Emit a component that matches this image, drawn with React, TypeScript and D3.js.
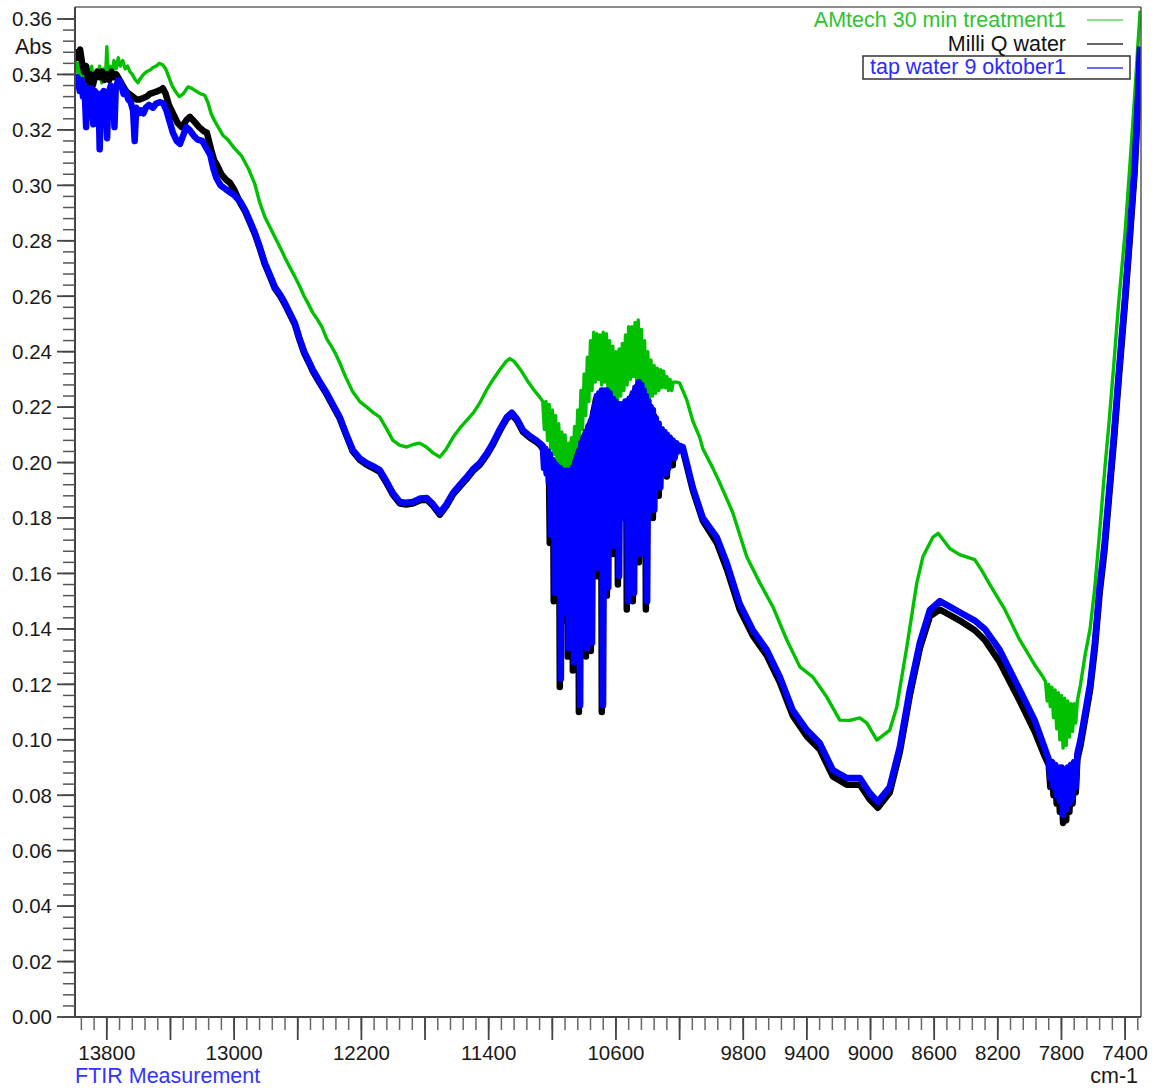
import React from 'react';
import * as d3 from 'd3';

// ---------- data (wavenumber cm-1, absorbance) ----------
const seriesNames = ['AMtech 30 min treatment1', 'Milli Q water', 'tap water 9 oktober1'];

const xTickLabels = [13800, 13000, 12200, 11400, 10600, 9800, 9400, 9000, 8600, 8200, 7800, 7400];

const amtech: [number, number][] = [
  [14000,0.346],[13992,0.341],[13982,0.344],[13972,0.338],[13962,0.342],[13950,0.337],[13940,0.341],[13930,0.336],
  [13918,0.342],[13905,0.338],[13895,0.343],[13882,0.336],[13870,0.341],[13858,0.339],[13845,0.343],[13832,0.337],
  [13820,0.342],[13808,0.339],[13800,0.350],[13792,0.339],[13780,0.343],[13768,0.340],[13755,0.345],[13742,0.342],
  [13728,0.346],[13715,0.343],[13700,0.345],[13685,0.342],[13670,0.343],[13655,0.341],[13640,0.340],[13620,0.338],
  [13605,0.337],[13590,0.3385],[13570,0.340],[13550,0.341],[13530,0.3415],[13510,0.3425],[13490,0.343],[13470,0.344],
  [13450,0.3435],[13430,0.342],[13410,0.339],[13390,0.336],[13370,0.334],[13345,0.332],[13320,0.333],[13290,0.3355],
  [13265,0.335],[13240,0.334],[13210,0.333],[13185,0.3325],[13165,0.330],[13145,0.326],[13125,0.3235],[13100,0.321],
  [13070,0.318],[13040,0.3165],[13000,0.3135],[12952,0.3105],[12910,0.306],[12870,0.3005],[12840,0.294],[12807,0.2886],
  [12775,0.285],[12744,0.2814],[12710,0.2775],[12681,0.274],[12650,0.2705],[12618,0.267],[12587,0.2635],[12560,0.260],
  [12537,0.2576],[12505,0.254],[12475,0.2515],[12449,0.249],[12417,0.2445],[12386,0.2417],[12360,0.239],[12336,0.236],
  [12300,0.231],[12254,0.2255],[12210,0.222],[12166,0.220],[12125,0.218],[12084,0.2164],[12040,0.212],[12002,0.208],
  [11960,0.2063],[11915,0.2056],[11875,0.2065],[11833,0.207],[11790,0.2055],[11750,0.2035],[11707,0.202],[11665,0.205],
  [11625,0.209],[11580,0.2125],[11537,0.2153],[11495,0.218],[11456,0.2215],[11415,0.226],[11374,0.2298],[11330,0.2335],
  [11290,0.2365],[11267,0.2375],[11240,0.2365],[11200,0.2335],[11160,0.2298],[11120,0.2265],[11079,0.2236],[11060,0.222],
  [11050,0.212],[11040,0.222],[11030,0.208],[11020,0.221],[11010,0.205],[11000,0.219],[10990,0.203],[10980,0.217],
  [10970,0.199],[10960,0.214],[10950,0.198],[10940,0.211],[10930,0.197],[10920,0.210],[10910,0.196],[10900,0.207],
  [10890,0.198],[10880,0.209],[10870,0.200],[10860,0.213],[10850,0.203],[10840,0.219],[10830,0.208],[10820,0.226],
  [10810,0.212],[10800,0.232],[10790,0.217],[10780,0.238],[10770,0.222],[10760,0.244],[10750,0.226],[10740,0.247],
  [10730,0.229],[10720,0.2465],[10710,0.230],[10700,0.246],[10690,0.228],[10680,0.247],[10670,0.229],[10660,0.2465],
  [10650,0.226],[10640,0.244],[10630,0.223],[10620,0.242],[10610,0.222],[10600,0.240],[10590,0.222],[10580,0.241],
  [10570,0.224],[10560,0.243],[10550,0.226],[10540,0.246],[10530,0.228],[10520,0.249],[10510,0.230],[10500,0.249],
  [10490,0.231],[10480,0.2505],[10470,0.229],[10460,0.2514],[10450,0.225],[10440,0.248],[10430,0.221],[10420,0.244],
  [10410,0.219],[10400,0.240],[10390,0.221],[10380,0.237],[10370,0.224],[10360,0.235],[10350,0.225],[10340,0.234],
  [10330,0.226],[10320,0.2335],[10310,0.227],[10300,0.233],[10290,0.227],[10280,0.231],[10270,0.226],[10260,0.230],
  [10250,0.226],[10240,0.229],[10220,0.229],[10200,0.2287],[10155,0.2226],[10117,0.215],[10073,0.209],[10054,0.205],
  [9991,0.198],[9947,0.1926],[9866,0.182],[9778,0.166],[9696,0.1566],[9614,0.148],[9526,0.136],[9444,0.1263],
  [9363,0.1227],[9275,0.1154],[9193,0.1071],[9130,0.107],[9067,0.1079],[9023,0.106],[8960,0.0999],[8879,0.1035],
  [8835,0.1118],[8772,0.1335],[8709,0.1566],[8671,0.166],[8609,0.173],[8575,0.1745],[8502,0.169],[8440,0.1668],
  [8345,0.165],[8300,0.161],[8250,0.156],[8156,0.147],[8062,0.136],[7968,0.127],[7920,0.123],[7900,0.121],
  [7890,0.114],[7880,0.120],[7870,0.112],[7860,0.119],[7850,0.108],[7840,0.118],[7830,0.104],[7820,0.117],
  [7810,0.100],[7800,0.116],[7790,0.097],[7780,0.115],[7770,0.098],[7760,0.114],[7750,0.101],[7740,0.113],
  [7730,0.103],[7720,0.113],[7710,0.106],[7700,0.114],[7680,0.120],[7650,0.131],[7620,0.140],[7590,0.155],
  [7560,0.175],[7530,0.196],[7500,0.215],[7470,0.236],[7440,0.258],[7400,0.283],[7370,0.307],[7340,0.332],
  [7320,0.350],[7305,0.363],
];

const milliQ: [number, number][] = [
  [14000,0.345],[13990,0.348],[13978,0.346],[13968,0.349],[13955,0.344],[13942,0.341],[13930,0.343],[13915,0.337],
  [13900,0.340],[13888,0.336],[13875,0.339],[13860,0.341],[13845,0.339],[13830,0.341],[13815,0.338],[13800,0.340],
  [13785,0.338],[13770,0.341],[13755,0.339],[13740,0.340],[13720,0.338],[13700,0.336],[13680,0.334],[13660,0.333],
  [13637,0.332],[13615,0.331],[13593,0.331],[13570,0.3315],[13549,0.332],[13530,0.333],[13505,0.3335],[13480,0.334],
  [13460,0.3345],[13448,0.335],[13430,0.333],[13410,0.329],[13385,0.326],[13355,0.3225],[13329,0.321],[13300,0.3235],
  [13278,0.3247],[13250,0.323],[13220,0.321],[13190,0.3195],[13171,0.319],[13145,0.313],[13125,0.309],[13109,0.3075],
  [13080,0.304],[13050,0.302],[13027,0.301],[13000,0.2985],[12960,0.2935],[12930,0.2905],[12900,0.2865],[12870,0.2825],
  [12840,0.2775],[12807,0.2715],[12770,0.2665],[12744,0.2628],[12710,0.260],[12681,0.2571],[12650,0.2535],[12618,0.2498],
  [12590,0.2445],[12560,0.2395],[12530,0.236],[12505,0.2329],[12460,0.2285],[12417,0.2245],[12380,0.2205],[12336,0.2159],
  [12300,0.2105],[12254,0.204],[12210,0.201],[12166,0.1992],[12120,0.1978],[12084,0.1966],[12040,0.1924],[12002,0.1884],
  [11958,0.1852],[11920,0.1849],[11877,0.1852],[11830,0.1864],[11789,0.1866],[11750,0.1844],[11707,0.1812],[11665,0.1844],
  [11625,0.1884],[11580,0.1914],[11537,0.1942],[11500,0.1969],[11456,0.1992],[11410,0.2029],[11374,0.2064],[11330,0.2114],
  [11286,0.2158],[11255,0.2174],[11220,0.2149],[11185,0.2111],[11140,0.2089],[11100,0.2074],[11079,0.2064],[11060,0.205],
  [11022,0.202],[11016,0.171],[11010,0.201],[10996,0.199],[10991,0.150],[10985,0.199],[10958,0.197],[10953,0.119],
  [10947,0.197],[10933,0.196],[10928,0.143],[10922,0.196],[10908,0.196],[10903,0.130],[10897,0.196],[10876,0.197],
  [10871,0.125],[10865,0.198],[10838,0.203],[10833,0.110],[10827,0.204],[10794,0.210],[10789,0.130],[10783,0.211],
  [10763,0.214],[10758,0.132],[10752,0.215],[10725,0.223],[10720,0.159],[10714,0.224],[10694,0.225],[10689,0.110],
  [10683,0.225],[10662,0.225],[10657,0.152],[10651,0.225],[10625,0.222],[10620,0.167],[10614,0.221],[10593,0.220],
  [10588,0.156],[10582,0.220],[10537,0.221],[10532,0.147],[10526,0.221],[10499,0.224],[10494,0.150],[10488,0.225],
  [10461,0.228],[10456,0.164],[10450,0.228],[10417,0.223],[10412,0.147],[10406,0.222],[10373,0.218],[10368,0.180],
  [10362,0.217],[10336,0.213],[10331,0.188],[10325,0.212],[10285,0.209],[10280,0.195],[10274,0.208],[10248,0.207],
  [10243,0.199],[10237,0.206],[10200,0.205],[10180,0.2045],[10117,0.190],[10054,0.179],[9966,0.171],[9903,0.1615],
  [9822,0.147],[9740,0.1376],[9652,0.1304],[9570,0.1207],[9489,0.1087],[9400,0.1012],[9319,0.0965],[9237,0.0868],
  [9149,0.0838],[9067,0.0838],[9005,0.0785],[8954,0.0755],[8879,0.081],[8816,0.0955],[8753,0.116],[8690,0.133],
  [8627,0.1445],[8565,0.147],[8502,0.145],[8439,0.143],[8345,0.1395],[8282,0.136],[8188,0.128],[8062,0.114],
  [7968,0.103],[7905,0.094],[7880,0.091],[7870,0.083],[7860,0.089],[7850,0.080],[7840,0.088],[7830,0.077],
  [7820,0.087],[7810,0.074],[7800,0.087],[7790,0.070],[7780,0.086],[7770,0.071],[7760,0.087],[7750,0.074],
  [7740,0.088],[7730,0.077],[7720,0.090],[7710,0.081],[7700,0.093],[7680,0.098],[7650,0.108],[7620,0.118],
  [7590,0.133],[7560,0.153],[7530,0.168],[7500,0.188],[7470,0.208],[7440,0.230],[7400,0.258],[7370,0.281],
  [7340,0.305],[7320,0.328],[7305,0.350],
];

const tapWater: [number, number][] = [
  [14000,0.337],[13985,0.339],[13970,0.334],[13958,0.338],[13950,0.332],[13940,0.336],[13930,0.321],[13922,0.335],
  [13908,0.331],[13898,0.335],[13885,0.322],[13875,0.334],[13862,0.331],[13852,0.333],[13845,0.313],[13836,0.332],
  [13820,0.334],[13806,0.331],[13798,0.317],[13790,0.333],[13775,0.336],[13760,0.334],[13752,0.321],[13744,0.335],
  [13728,0.338],[13712,0.337],[13695,0.333],[13680,0.334],[13665,0.331],[13650,0.330],[13635,0.327],[13625,0.316],
  [13615,0.328],[13600,0.326],[13585,0.327],[13570,0.326],[13555,0.328],[13535,0.329],[13510,0.328],[13490,0.3295],
  [13465,0.330],[13445,0.3295],[13425,0.327],[13405,0.323],[13385,0.319],[13360,0.316],[13340,0.315],[13320,0.318],
  [13300,0.321],[13280,0.320],[13255,0.318],[13230,0.3165],[13200,0.316],[13175,0.3135],[13150,0.311],[13130,0.306],
  [13110,0.3025],[13085,0.300],[13050,0.2985],[13025,0.2975],[13000,0.2965],[12960,0.294],[12930,0.291],[12900,0.287],
  [12870,0.283],[12840,0.278],[12807,0.272],[12770,0.267],[12744,0.2633],[12710,0.2605],[12681,0.2576],[12650,0.254],
  [12618,0.2503],[12590,0.245],[12560,0.240],[12530,0.2365],[12505,0.2334],[12460,0.229],[12417,0.225],[12380,0.221],
  [12336,0.2164],[12300,0.211],[12254,0.2045],[12210,0.2015],[12166,0.1998],[12120,0.1985],[12084,0.1973],[12040,0.193],
  [12002,0.189],[11958,0.1858],[11920,0.1855],[11877,0.1858],[11830,0.187],[11789,0.1872],[11750,0.185],[11707,0.1818],
  [11665,0.185],[11625,0.189],[11580,0.192],[11537,0.1948],[11500,0.1975],[11456,0.1998],[11410,0.2035],[11374,0.207],
  [11330,0.212],[11286,0.2164],[11255,0.218],[11220,0.2155],[11185,0.2117],[11140,0.2095],[11100,0.208],[11079,0.207],
  [11060,0.206],[11052,0.198],[11044,0.205],[11036,0.196],[11028,0.204],[11022,0.193],[11016,0.203],[11008,0.174],
  [11000,0.201],[10996,0.190],[10991,0.200],[10983,0.153],[10975,0.199],[10968,0.188],[10962,0.198],[10957,0.170],
  [10953,0.198],[10946,0.122],[10940,0.197],[10934,0.180],[10928,0.197],[10921,0.146],[10915,0.196],[10909,0.160],
  [10903,0.197],[10895,0.133],[10887,0.196],[10879,0.175],[10871,0.198],[10863,0.128],[10855,0.200],[10849,0.165],
  [10843,0.202],[10838,0.140],[10833,0.204],[10825,0.1125],[10818,0.207],[10810,0.170],[10803,0.209],[10796,0.150],
  [10789,0.211],[10781,0.133],[10773,0.213],[10765,0.180],[10758,0.215],[10750,0.135],[10742,0.218],[10736,0.185],
  [10730,0.221],[10725,0.175],[10720,0.224],[10712,0.162],[10705,0.225],[10697,0.190],[10689,0.226],[10681,0.1125],
  [10672,0.226],[10665,0.188],[10657,0.226],[10648,0.155],[10640,0.225],[10630,0.192],[10620,0.223],[10612,0.170],
  [10604,0.222],[10596,0.190],[10588,0.221],[10580,0.159],[10572,0.221],[10564,0.195],[10556,0.221],[10548,0.180],
  [10540,0.222],[10536,0.192],[10532,0.222],[10524,0.150],[10515,0.223],[10505,0.185],[10494,0.225],[10486,0.153],
  [10478,0.227],[10467,0.190],[10456,0.229],[10448,0.167],[10440,0.228],[10433,0.195],[10426,0.226],[10419,0.180],
  [10412,0.224],[10404,0.150],[10396,0.222],[10389,0.198],[10382,0.220],[10375,0.190],[10368,0.219],[10359,0.183],
  [10350,0.216],[10340,0.200],[10331,0.214],[10321,0.191],[10312,0.212],[10303,0.202],[10295,0.211],[10287,0.196],
  [10280,0.210],[10271,0.198],[10262,0.209],[10252,0.203],[10243,0.208],[10231,0.2017],[10220,0.207],[10210,0.204],
  [10200,0.206],[10180,0.2056],[10117,0.191],[10054,0.180],[9966,0.173],[9903,0.1637],[9822,0.149],[9740,0.1396],
  [9652,0.1324],[9570,0.1227],[9489,0.1107],[9400,0.1035],[9319,0.0988],[9237,0.0891],[9149,0.0862],[9067,0.0862],
  [9005,0.0808],[8954,0.0776],[8879,0.083],[8816,0.0974],[8753,0.118],[8690,0.135],[8627,0.1468],[8565,0.150],
  [8502,0.148],[8439,0.146],[8345,0.143],[8282,0.140],[8188,0.1324],[8062,0.118],[7968,0.107],[7905,0.097],
  [7880,0.093],[7870,0.086],[7860,0.092],[7850,0.083],[7840,0.091],[7830,0.080],[7820,0.090],[7810,0.078],
  [7800,0.090],[7790,0.073],[7780,0.089],[7770,0.075],[7760,0.090],[7750,0.077],[7740,0.091],[7730,0.079],
  [7720,0.092],[7710,0.083],[7700,0.095],[7680,0.100],[7650,0.110],[7620,0.120],[7590,0.135],[7560,0.155],
  [7530,0.170],[7500,0.190],[7470,0.210],[7440,0.232],[7400,0.260],[7370,0.283],[7340,0.307],[7320,0.330],
  [7305,0.350],
];

// ---------- layout ----------
const W = 1155, H = 1091;
const L = 75, R = 1141, T = 7, B = 1017;
const FONT = 'Liberation Sans, Arial, Helvetica, sans-serif';

export default function App() {
  const x = d3.scaleLinear().domain([14000, 7300]).range([L, R]);
  const y = d3.scaleLinear().domain([0, 0.36]).range([B, 19]);
  const line = d3.line<[number, number]>().x(d => x(d[0])).y(d => y(d[1]));

  const yMajor = d3.range(0, 19).map(i => i * 0.02);
  const yMinor = d3.range(0, 91).map(i => i * 0.004);
  const xMajor = d3.range(7400, 14000, 400);
  const xMinor = d3.range(7320, 14000, 80);
  const fmt = d3.format('.2f');

  const series = [
    { name: seriesNames[0], data: amtech, color: '#00c000', width: 3.4, text: '#2ec42e', leg: '#5fd85f' },
    { name: seriesNames[1], data: milliQ, color: '#000000', width: 6.5, text: '#111111', leg: '#333333' },
    { name: seriesNames[2], data: tapWater, color: '#0000ff', width: 6.5, text: '#2b2bff', leg: '#3a3aff' },
  ];

  return (
    <div style={{ position: 'absolute', left: 0, top: 0 }}>
      <svg width={W} height={H} style={{ display: 'block', background: '#fff' }} fontFamily={FONT}>
        <defs>
          <clipPath id="plotclip">
            <rect x={L} y={T} width={R - L} height={B - T} />
          </clipPath>
        </defs>
        <rect x={0} y={0} width={W} height={H} fill="#fff" />

        {/* data */}
        <g clipPath="url(#plotclip)">
          {series.map(s => (
            <path key={s.name} d={line(s.data) || ''} fill="none" stroke={s.color}
              strokeWidth={s.width} strokeLinejoin="round" />
          ))}
        </g>

        {/* frame */}
        <line x1={L} y1={T} x2={R} y2={T} stroke="#666" strokeWidth={1.5} />
        <line x1={R} y1={T} x2={R} y2={B} stroke="#555" strokeWidth={1.5} />
        <line x1={L} y1={T} x2={L} y2={B} stroke="#444" strokeWidth={2} />
        <line x1={L} y1={B} x2={R} y2={B} stroke="#444" strokeWidth={2} />

        {/* y ticks */}
        {yMinor.map((v, i) => (
          <line key={'ym' + i} x1={63} x2={L} y1={y(v)} y2={y(v)} stroke="#555" strokeWidth={1.5} />
        ))}
        {yMajor.map((v, i) => (
          <line key={'yM' + i} x1={57} x2={L} y1={y(v)} y2={y(v)} stroke="#444" strokeWidth={1.8} />
        ))}
        {yMajor.map((v, i) => (
          <text key={'yl' + i} x={52} y={y(v)} dy="0.36em" textAnchor="end" fontSize={20.5} fill="#1a1a1a">{fmt(v)}</text>
        ))}
        <text x={52} y={y(0.36) + 35} textAnchor="end" fontSize={21.5} fill="#1a1a1a">Abs</text>

        {/* x ticks */}
        {xMinor.map((v, i) => (
          <line key={'xm' + i} x1={x(v)} x2={x(v)} y1={B} y2={1030} stroke="#666" strokeWidth={1.5} />
        ))}
        {xMajor.map((v, i) => (
          <line key={'xM' + i} x1={x(v)} x2={x(v)} y1={B} y2={1040} stroke="#444" strokeWidth={1.8} />
        ))}
        {xTickLabels.map(v => (
          <text key={'xl' + v} x={x(v)} y={1060} textAnchor="middle" fontSize={20.5} fill="#1a1a1a">{v}</text>
        ))}
        <text x={L} y={1083} fontSize={21.5} fill="#3333ff">FTIR Measurement</text>
        <text x={1138} y={1083} textAnchor="end" fontSize={21.5} fill="#1a1a1a">cm-1</text>

        {/* legend */}
        <rect x={863} y={56} width={267} height={23} fill="none" stroke="#333" strokeWidth={1.5} />
        {series.map((s, i) => (
          <g key={'lg' + i}>
            <text x={1066} y={27 + i * 23.5} textAnchor="end" fontSize={21.5} fill={s.text}>{s.name}</text>
            <line x1={1087} x2={1123} y1={20 + i * 24} y2={20 + i * 24} stroke={s.leg} strokeWidth={1.5} />
          </g>
        ))}
      </svg>
    </div>
  );
}
